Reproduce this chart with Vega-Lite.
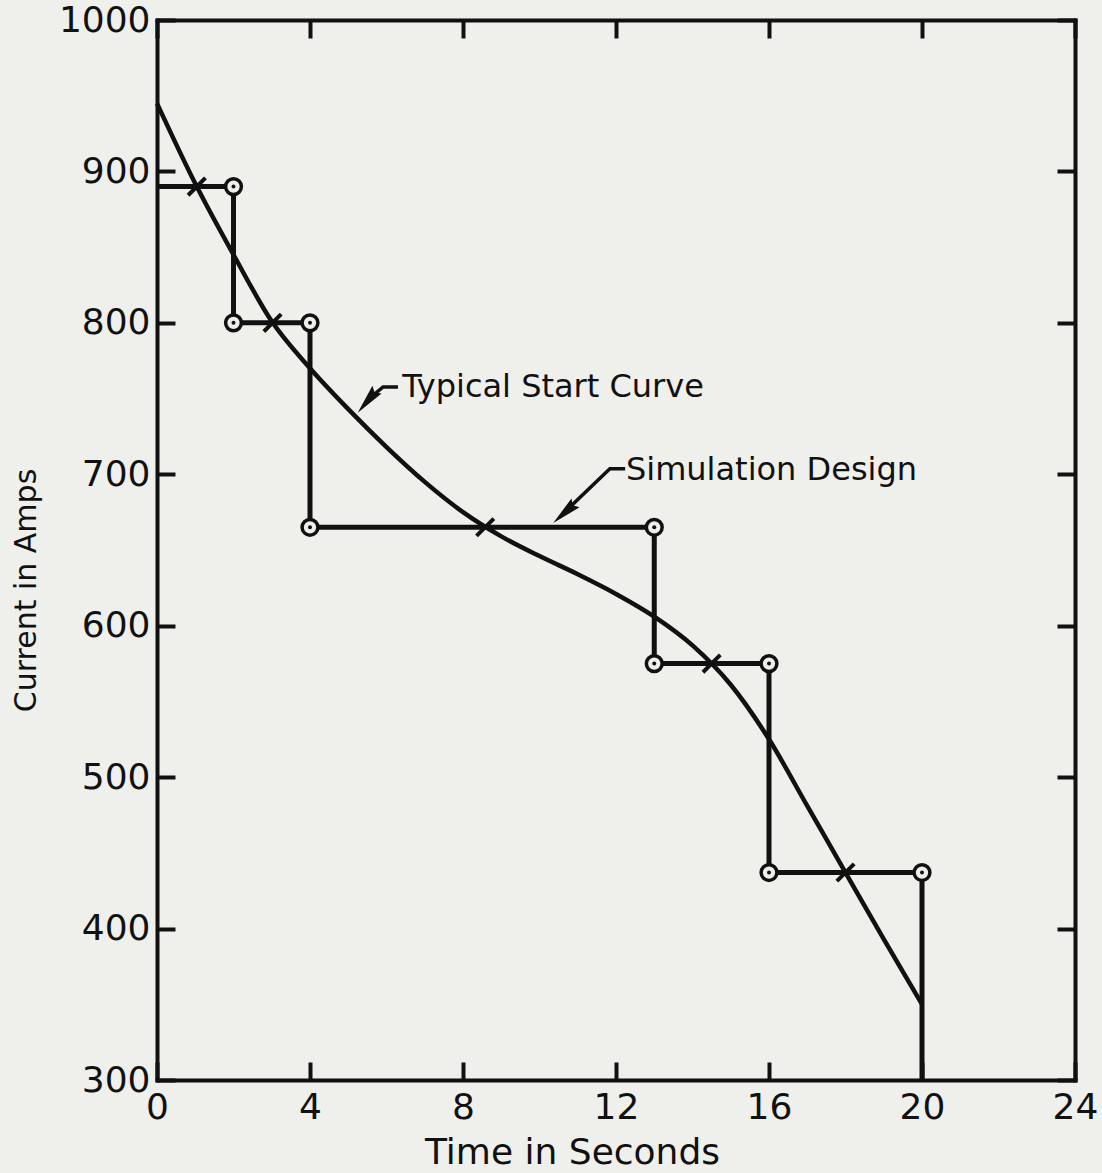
{
  "$schema": "https://vega.github.io/schema/vega-lite/v6.json",
  "width": 918,
  "height": 1060,
  "autosize": {"type": "none"},
  "padding": {"left": 157, "top": 20, "right": 27, "bottom": 93},
  "background": "#efefec",
  "config": {
    "view": {"stroke": null},
    "font": "DejaVu Sans",
    "axis": {
      "domainColor": "#111111",
      "domainWidth": 4,
      "domainCap": "square",
      "tickColor": "#111111",
      "tickWidth": 4,
      "tickSize": -18,
      "labelFont": "DejaVu Sans",
      "labelFontSize": 36,
      "labelColor": "#111111",
      "grid": false,
      "titleFont": "DejaVu Sans",
      "titleFontWeight": "normal",
      "titleColor": "#111111"
    }
  },
  "datasets": {
    "step": [
      {"t": 0, "amps": 890, "ord": 0},
      {"t": 2, "amps": 890, "ord": 1},
      {"t": 2, "amps": 800, "ord": 2},
      {"t": 4, "amps": 800, "ord": 3},
      {"t": 4, "amps": 665, "ord": 4},
      {"t": 13, "amps": 665, "ord": 5},
      {"t": 13, "amps": 575, "ord": 6},
      {"t": 16, "amps": 575, "ord": 7},
      {"t": 16, "amps": 437, "ord": 8},
      {"t": 20, "amps": 437, "ord": 9},
      {"t": 20, "amps": 300, "ord": 10}
    ],
    "curve": [
      {"t": 0, "amps": 945},
      {"t": 1, "amps": 892},
      {"t": 2, "amps": 845},
      {"t": 3, "amps": 801},
      {"t": 4, "amps": 770},
      {"t": 5, "amps": 743},
      {"t": 6, "amps": 718},
      {"t": 7, "amps": 695},
      {"t": 8, "amps": 675},
      {"t": 9, "amps": 659},
      {"t": 10, "amps": 646},
      {"t": 11, "amps": 634},
      {"t": 12, "amps": 621},
      {"t": 13, "amps": 606},
      {"t": 14, "amps": 587},
      {"t": 15, "amps": 561},
      {"t": 16, "amps": 525},
      {"t": 17, "amps": 481},
      {"t": 18, "amps": 437},
      {"t": 19, "amps": 393},
      {"t": 20, "amps": 350}
    ],
    "nodes": [
      {"t": 2, "amps": 890},
      {"t": 2, "amps": 800},
      {"t": 4, "amps": 800},
      {"t": 4, "amps": 665},
      {"t": 13, "amps": 665},
      {"t": 13, "amps": 575},
      {"t": 16, "amps": 575},
      {"t": 16, "amps": 437},
      {"t": 20, "amps": 437}
    ],
    "crosses": [
      {"t": 1.04, "amps": 890},
      {"t": 3.02, "amps": 800},
      {"t": 8.58, "amps": 665},
      {"t": 14.5, "amps": 575},
      {"t": 18, "amps": 437}
    ],
    "labels": [
      {"t": 6.41, "amps": 751, "text": "Typical Start Curve"},
      {"t": 12.26, "amps": 696.3, "text": "Simulation Design"}
    ],
    "leaders": [
      {"id": "a", "t": 6.3, "amps": 757.7, "ord": 0},
      {"id": "a", "t": 5.91, "amps": 757.7, "ord": 1},
      {"id": "a", "t": 5.5, "amps": 749, "ord": 2},
      {"id": "b", "t": 12.24, "amps": 703.6, "ord": 0},
      {"id": "b", "t": 11.84, "amps": 703.6, "ord": 1},
      {"id": "b", "t": 10.7, "amps": 676, "ord": 2}
    ],
    "heads": [
      {"id": "a", "t": 5.5, "amps": 748.3},
      {"id": "b", "t": 10.65, "amps": 674.5}
    ]
  },
  "layer": [
    {
      "data": {"name": "step"},
      "mark": {"type": "line", "color": "#111111", "strokeWidth": 5, "strokeJoin": "miter", "strokeCap": "butt"},
      "encoding": {
        "x": {
          "field": "t", "type": "quantitative",
          "scale": {"domain": [0, 24], "nice": false, "zero": false},
          "axis": {
            "orient": "bottom",
            "values": [0, 4, 8, 12, 16, 20, 24],
            "labelPadding": 28,
            "labelFlush": false,
            "title": "Time in Seconds",
            "titleFontSize": 36,
            "titleX": 415,
            "titleY": 83,
            "titleBaseline": "alphabetic",
            "titleAlign": "center"
          }
        },
        "y": {
          "field": "amps", "type": "quantitative",
          "scale": {"domain": [300, 1000], "nice": false, "zero": false},
          "axis": {
            "orient": "left",
            "values": [300, 400, 500, 600, 700, 800, 900, 1000],
            "format": "d",
            "labelPadding": 25,
            "title": "Current in Amps",
            "titleFontSize": 30,
            "titleX": -122,
            "titleY": 570,
            "titleBaseline": "alphabetic",
            "titleAlign": "center"
          }
        },
        "order": {"field": "ord", "type": "quantitative"}
      }
    },
    {
      "data": {"name": "curve"},
      "mark": {"type": "line", "color": "#111111", "strokeWidth": 4.5, "interpolate": "monotone"},
      "encoding": {
        "x": {
          "field": "t", "type": "quantitative",
          "scale": {"domain": [0, 24], "nice": false, "zero": false},
          "axis": {"orient": "top", "values": [0, 4, 8, 12, 16, 20, 24], "labels": false, "title": null}
        },
        "y": {
          "field": "amps", "type": "quantitative",
          "scale": {"domain": [300, 1000], "nice": false, "zero": false},
          "axis": {"orient": "right", "values": [300, 400, 500, 600, 700, 800, 900, 1000], "labels": false, "title": null}
        }
      }
    },
    {
      "data": {"name": "leaders"},
      "mark": {"type": "line", "color": "#111111", "strokeWidth": 3.5},
      "encoding": {
        "x": {"field": "t", "type": "quantitative", "axis": null},
        "y": {"field": "amps", "type": "quantitative", "axis": null},
        "detail": {"field": "id"},
        "order": {"field": "ord", "type": "quantitative"}
      }
    },
    {
      "data": {"name": "heads"},
      "transform": [{"filter": "datum.id === 'a'"}],
      "mark": {"type": "point", "shape": "M0,-1L0.4,1L0,0.75L-0.4,1Z", "filled": true, "color": "#111111", "opacity": 1, "size": 900, "angle": 220},
      "encoding": {
        "x": {"field": "t", "type": "quantitative", "axis": null},
        "y": {"field": "amps", "type": "quantitative", "axis": null}
      }
    },
    {
      "data": {"name": "heads"},
      "transform": [{"filter": "datum.id === 'b'"}],
      "mark": {"type": "point", "shape": "M0,-1L0.4,1L0,0.75L-0.4,1Z", "filled": true, "color": "#111111", "opacity": 1, "size": 900, "angle": 228},
      "encoding": {
        "x": {"field": "t", "type": "quantitative", "axis": null},
        "y": {"field": "amps", "type": "quantitative", "axis": null}
      }
    },
    {
      "data": {"name": "crosses"},
      "mark": {"type": "point", "shape": "M-1,1L1,-1", "filled": false, "stroke": "#111111", "strokeWidth": 4, "opacity": 1, "size": 300},
      "encoding": {
        "x": {"field": "t", "type": "quantitative", "axis": null},
        "y": {"field": "amps", "type": "quantitative", "axis": null}
      }
    },
    {
      "data": {"name": "nodes"},
      "mark": {"type": "point", "shape": "circle", "filled": true, "fill": "#efefec", "stroke": "#111111", "strokeWidth": 3.5, "opacity": 1, "size": 250},
      "encoding": {
        "x": {"field": "t", "type": "quantitative", "axis": null},
        "y": {"field": "amps", "type": "quantitative", "axis": null}
      }
    },
    {
      "data": {"name": "nodes"},
      "mark": {"type": "point", "shape": "circle", "filled": true, "color": "#111111", "opacity": 1, "size": 16},
      "encoding": {
        "x": {"field": "t", "type": "quantitative", "axis": null},
        "y": {"field": "amps", "type": "quantitative", "axis": null}
      }
    },
    {
      "data": {"name": "labels"},
      "mark": {"type": "text", "font": "DejaVu Sans", "fontSize": 32, "align": "left", "baseline": "alphabetic", "color": "#111111"},
      "encoding": {
        "x": {"field": "t", "type": "quantitative", "axis": null},
        "y": {"field": "amps", "type": "quantitative", "axis": null},
        "text": {"field": "text"}
      }
    }
  ],
  "resolve": {"axis": {"x": "independent", "y": "independent"}}
}
